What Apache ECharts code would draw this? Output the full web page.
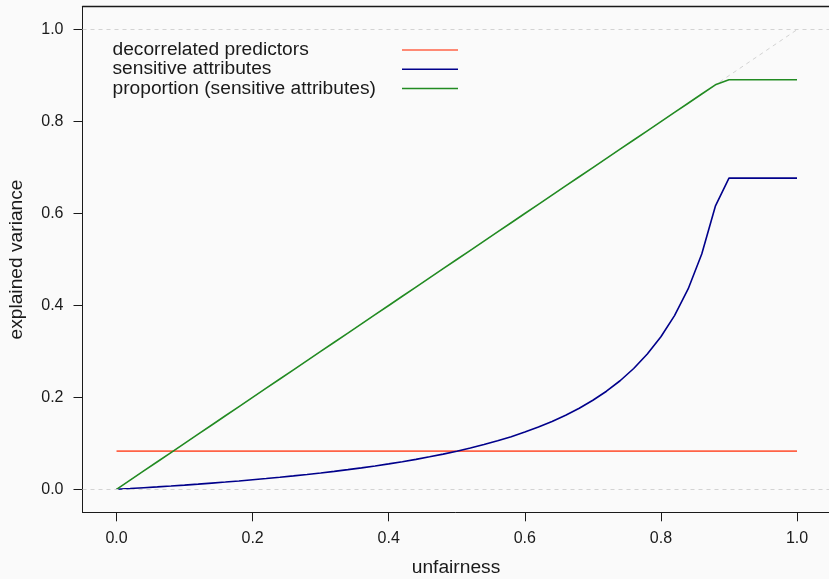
<!DOCTYPE html>
<html lang="en">
<head>
  <meta charset="UTF-8">
  <title>explained variance vs unfairness</title>
  <style>
    * {
      padding: 0;
      margin: 0;
    }

    body {
      background-color: #fafafa;
    }

    #chart {
      width: 829px;
      height: 579px;
    }
  </style>
</head>
<body>
  <div id="chart"></div>

  <script src="https://cdn.jsdelivr.net/npm/echarts@6/dist/echarts.min.js"></script>
  <script>
    // unfairness grid (x values)
    const unfairness = [
      0, 0.02, 0.04, 0.06, 0.08, 0.1, 0.12, 0.14, 0.16, 0.18,
      0.2, 0.22, 0.24, 0.26, 0.28, 0.3, 0.32, 0.34, 0.36, 0.38,
      0.4, 0.42, 0.44, 0.46, 0.48, 0.5, 0.52, 0.54, 0.56, 0.58,
      0.6, 0.62, 0.64, 0.66, 0.68, 0.7, 0.72, 0.74, 0.76, 0.78,
      0.8, 0.82, 0.84, 0.86, 0.88, 0.9, 0.92, 0.94, 0.96, 0.98, 1
    ];

    const decorrelated = [
      0.083, 0.083, 0.083, 0.083, 0.083, 0.083, 0.083, 0.083, 0.083, 0.083,
      0.083, 0.083, 0.083, 0.083, 0.083, 0.083, 0.083, 0.083, 0.083, 0.083,
      0.083, 0.083, 0.083, 0.083, 0.083, 0.083, 0.083, 0.083, 0.083, 0.083,
      0.083, 0.083, 0.083, 0.083, 0.083, 0.083, 0.083, 0.083, 0.083, 0.083,
      0.083, 0.083, 0.083, 0.083, 0.083, 0.083, 0.083, 0.083, 0.083, 0.083, 0.083
    ];

    const sensitive = [
      0, 0.0017, 0.0035, 0.0053, 0.0072, 0.0092, 0.0113, 0.0135, 0.0158, 0.0182,
      0.0208, 0.0234, 0.0262, 0.0292, 0.0323, 0.0356, 0.0391, 0.0428, 0.0467, 0.0509,
      0.0553, 0.0601, 0.0652, 0.0707, 0.0766, 0.083, 0.0899, 0.0974, 0.1056, 0.1146,
      0.1245, 0.1354, 0.1476, 0.1611, 0.1764, 0.1937, 0.2134, 0.2362, 0.2628, 0.2943,
      0.332, 0.378, 0.436, 0.512, 0.616, 0.677, 0.677, 0.677, 0.677, 0.677, 0.677
    ];

    const proportion = [
      0, 0.02, 0.04, 0.06, 0.08, 0.1, 0.12, 0.14, 0.16, 0.18,
      0.2, 0.22, 0.24, 0.26, 0.28, 0.3, 0.32, 0.34, 0.36, 0.38,
      0.4, 0.42, 0.44, 0.46, 0.48, 0.5, 0.52, 0.54, 0.56, 0.58,
      0.6, 0.62, 0.64, 0.66, 0.68, 0.7, 0.72, 0.74, 0.76, 0.78,
      0.8, 0.82, 0.84, 0.86, 0.88, 0.891, 0.891, 0.891, 0.891, 0.891, 0.891
    ];

    // y = x reference, drawn dashed
    const diagonal = [0, 1];
    const hLines = [0, 1];

    const ticks = [0, 0.2, 0.4, 0.6, 0.8, 1];
    const seriesNames = ['decorrelated predictors', 'sensitive attributes', 'proportion (sensitive attributes)'];
    const colors = ['#ff6347', '#00008b', '#228b22'];

    const font = 'Liberation Sans, Arial, Helvetica, sans-serif';
    const ink = '#1a1a1a';

    const pair = (xs, ys) => xs.map((x, i) => [x, ys[i]]);

    const chart = echarts.init(document.getElementById('chart'));

    // legend drawn by hand: text on the left, line on the right
    const legendItems = [];
    seriesNames.forEach((name, i) => {
      const y = 50 + i * 19.2;
      legendItems.push({
        type: 'text',
        x: 112.5,
        y: y,
        style: {
          text: name,
          fill: ink,
          font: '19.2px ' + font,
          align: 'left',
          verticalAlign: 'middle'
        }
      });
      legendItems.push({
        type: 'line',
        shape: { x1: 402, y1: y, x2: 458, y2: y },
        style: { stroke: colors[i], lineWidth: 1.5 }
      });
    });

    const tickLabel = margin => ({
      customValues: ticks,
      margin: margin,
      color: ink,
      fontSize: 16,
      fontFamily: font,
      formatter: v => v.toFixed(1)
    });

    const axisTick = {
      inside: false,
      length: 9,
      customValues: ticks,
      lineStyle: { color: ink }
    };

    // the box is open on the right (cut off by the image edge)
    const option = {
      backgroundColor: '#fafafa',
      animation: false,
      grid: {
        left: 82.5,
        right: 0,
        top: 6.7,
        bottom: 66.7
      },
      xAxis: [
        {
          type: 'value',
          position: 'bottom',
          min: -0.05,
          max: 1.047,
          axisLine: { show: true, onZero: false, lineStyle: { color: ink, width: 1 } },
          splitLine: { show: false },
          axisTick: axisTick,
          axisLabel: tickLabel(18)
        },
        {
          type: 'value',
          position: 'top',
          min: -0.05,
          max: 1.047,
          axisLine: { show: true, onZero: false, lineStyle: { color: ink, width: 1.3 } },
          splitLine: { show: false },
          axisTick: { show: false },
          axisLabel: { show: false }
        }
      ],
      yAxis: {
        type: 'value',
        min: -0.05,
        max: 1.05,
        axisLine: { show: true, onZero: false, lineStyle: { color: ink, width: 1 } },
        splitLine: { show: false },
        axisTick: axisTick,
        axisLabel: tickLabel(19)
      },
      graphic: [
        {
          type: 'text',
          x: 456,
          y: 568,
          style: {
            text: 'unfairness',
            fill: ink,
            font: '19.2px ' + font,
            align: 'center',
            verticalAlign: 'middle'
          }
        },
        {
          type: 'text',
          x: 17,
          y: 259.5,
          rotation: Math.PI / 2,
          style: {
            text: 'explained variance',
            fill: ink,
            font: '19.2px ' + font,
            align: 'center',
            verticalAlign: 'middle'
          }
        }
      ].concat(legendItems),
      series: [
        {
          name: 'reference',
          type: 'line',
          data: pair(diagonal, diagonal),
          symbol: 'none',
          silent: true,
          lineStyle: { color: '#d3d3d3', width: 1, type: [4, 4] },
          markLine: {
            silent: true,
            symbol: 'none',
            label: { show: false },
            lineStyle: { color: '#d3d3d3', width: 1, type: [4, 4] },
            data: hLines.map(v => ({ yAxis: v }))
          },
          z: 1
        },
        {
          name: seriesNames[0],
          type: 'line',
          data: pair(unfairness, decorrelated),
          symbol: 'none',
          lineStyle: { color: colors[0], width: 1.6 },
          z: 2
        },
        {
          name: seriesNames[1],
          type: 'line',
          data: pair(unfairness, sensitive),
          symbol: 'none',
          lineStyle: { color: colors[1], width: 1.6 },
          z: 3
        },
        {
          name: seriesNames[2],
          type: 'line',
          data: pair(unfairness, proportion),
          symbol: 'none',
          lineStyle: { color: colors[2], width: 1.6 },
          z: 4
        }
      ]
    };

    chart.setOption(option);
  </script>
</body>
</html>
